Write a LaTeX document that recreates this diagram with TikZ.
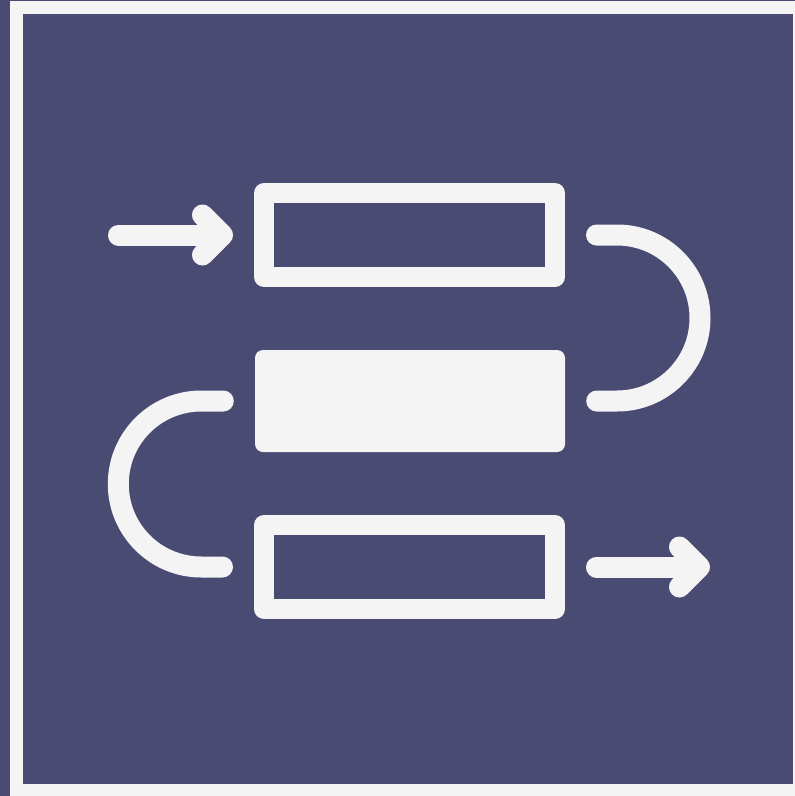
\documentclass[tikz,border=0pt]{standalone}
\usetikzlibrary{arrows.meta}
\definecolor{cnavy}{HTML}{4A4B73}
\definecolor{cwhite}{HTML}{F4F4F4}

\begin{document}
\begin{tikzpicture}[x=1pt,y=1pt,
  box/.style={draw=cwhite,line width=20pt,line join=round,minimum width=291pt,
    minimum height=84pt,inner sep=0pt},
  solidbox/.style={fill=cwhite,rounded corners=8pt,minimum width=310pt,
    minimum height=102pt,inner sep=0pt},
  link/.style={draw=cwhite,line width=21pt,line cap=round,line join=round},
  tip/.style={-{Straight Barb[length=20pt,width=40pt,line cap=round,line join=round]}}]
  \fill[cnavy] (0,0) rectangle (795,-796);
  \fill[cwhite] (10,-1) rectangle (795,-796);
  \fill[cnavy] (23,-14) rectangle (792.5,-784);
  \node[box] (top) at (409.5,-235) {};
  \node[solidbox] (mid) at (410,-401) {};
  \node[box] (bot) at (409.5,-567) {};
  \coordinate (in) at (118.5,-235);
  \coordinate (out) at (710,-567);
  \draw[link,tip,shorten >=21pt] (in) -- (top.west);
  \draw[link] ([xshift=31.5pt]top.east) -- ++(20.5,0)
    arc[start angle=90,end angle=-90,radius=83] -- ([xshift=31.5pt]mid.east);
  \draw[link] ([xshift=-31.5pt]mid.west) -- ++(-22,0)
    arc[start angle=90,end angle=270,radius=83] -- ([xshift=-31.5pt]bot.west);
  \draw[link,tip] ([xshift=31.5pt]bot.east) -- (out);
\end{tikzpicture}
\end{document}
